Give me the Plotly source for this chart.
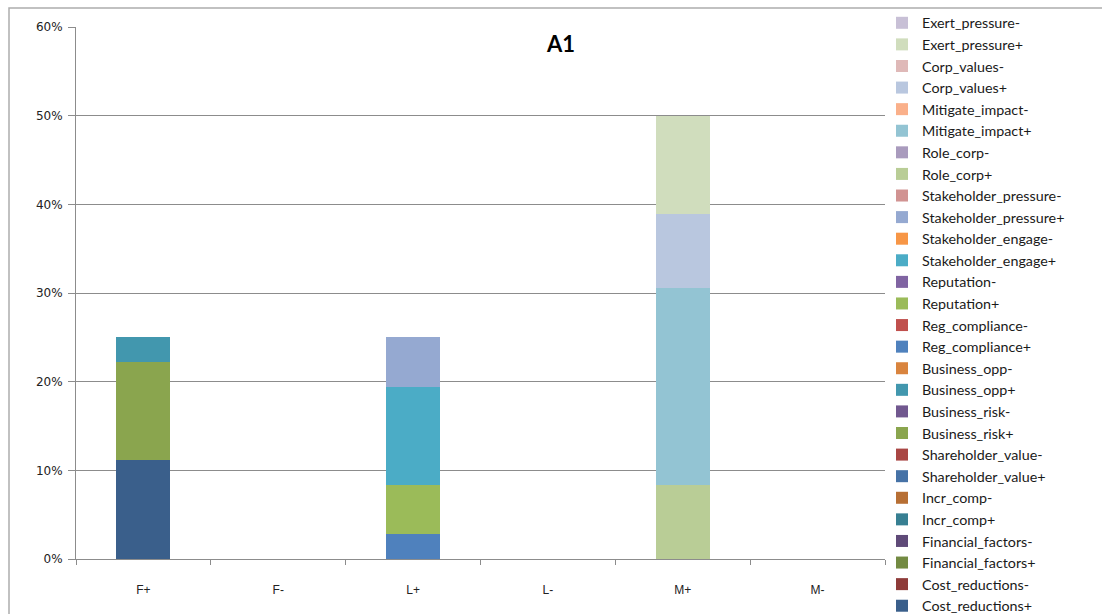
import plotly.graph_objects as go

# Categories on the x axis
categories = ["F+", "F-", "L+", "L-", "M+", "M-"]

# Share of mentions per category for each code (fractions of 1)
cost_reductions_pos = [0.1111, 0, 0, 0, 0, 0]
cost_reductions_neg = [0, 0, 0, 0, 0, 0]
financial_factors_pos = [0, 0, 0, 0, 0, 0]
financial_factors_neg = [0, 0, 0, 0, 0, 0]
incr_comp_pos = [0, 0, 0, 0, 0, 0]
incr_comp_neg = [0, 0, 0, 0, 0, 0]
shareholder_value_pos = [0, 0, 0, 0, 0, 0]
shareholder_value_neg = [0, 0, 0, 0, 0, 0]
business_risk_pos = [0.1111, 0, 0, 0, 0, 0]
business_risk_neg = [0, 0, 0, 0, 0, 0]
business_opp_pos = [0.0278, 0, 0, 0, 0, 0]
business_opp_neg = [0, 0, 0, 0, 0, 0]
reg_compliance_pos = [0, 0, 0.0278, 0, 0, 0]
reg_compliance_neg = [0, 0, 0, 0, 0, 0]
reputation_pos = [0, 0, 0.0556, 0, 0, 0]
reputation_neg = [0, 0, 0, 0, 0, 0]
stakeholder_engage_pos = [0, 0, 0.1111, 0, 0, 0]
stakeholder_engage_neg = [0, 0, 0, 0, 0, 0]
stakeholder_pressure_pos = [0, 0, 0.0556, 0, 0, 0]
stakeholder_pressure_neg = [0, 0, 0, 0, 0, 0]
role_corp_pos = [0, 0, 0, 0, 0.0833, 0]
role_corp_neg = [0, 0, 0, 0, 0, 0]
mitigate_impact_pos = [0, 0, 0, 0, 0.2222, 0]
mitigate_impact_neg = [0, 0, 0, 0, 0, 0]
corp_values_pos = [0, 0, 0, 0, 0.0833, 0]
corp_values_neg = [0, 0, 0, 0, 0, 0]
exert_pressure_pos = [0, 0, 0, 0, 0.1111, 0]
exert_pressure_neg = [0, 0, 0, 0, 0, 0]

# Series in stacking order (bottom to top): name, values, fill colour
series = [
    ("Cost_reductions+", cost_reductions_pos, "#3A5F8B"),
    ("Cost_reductions-", cost_reductions_neg, "#8E3B39"),
    ("Financial_factors+", financial_factors_pos, "#738A42"),
    ("Financial_factors-", financial_factors_neg, "#5F4A78"),
    ("Incr_comp+", incr_comp_pos, "#377F92"),
    ("Incr_comp-", incr_comp_neg, "#B76F34"),
    ("Shareholder_value+", shareholder_value_pos, "#4672A6"),
    ("Shareholder_value-", shareholder_value_neg, "#A94644"),
    ("Business_risk+", business_risk_pos, "#8AA54E"),
    ("Business_risk-", business_risk_neg, "#71588F"),
    ("Business_opp+", business_opp_pos, "#4297AE"),
    ("Business_opp-", business_opp_neg, "#D9843E"),
    ("Reg_compliance+", reg_compliance_pos, "#4F81BD"),
    ("Reg_compliance-", reg_compliance_neg, "#C0504D"),
    ("Reputation+", reputation_pos, "#9BBB59"),
    ("Reputation-", reputation_neg, "#8064A2"),
    ("Stakeholder_engage+", stakeholder_engage_pos, "#4BACC6"),
    ("Stakeholder_engage-", stakeholder_engage_neg, "#F79646"),
    ("Stakeholder_pressure+", stakeholder_pressure_pos, "#95A9D1"),
    ("Stakeholder_pressure-", stakeholder_pressure_neg, "#D19392"),
    ("Role_corp+", role_corp_pos, "#B9CD96"),
    ("Role_corp-", role_corp_neg, "#A99BBD"),
    ("Mitigate_impact+", mitigate_impact_pos, "#93C4D3"),
    ("Mitigate_impact-", mitigate_impact_neg, "#FAB08A"),
    ("Corp_values+", corp_values_pos, "#B9C7DF"),
    ("Corp_values-", corp_values_neg, "#DFB9B8"),
    ("Exert_pressure+", exert_pressure_pos, "#D0DDBD"),
    ("Exert_pressure-", exert_pressure_neg, "#C8C0D6"),
]

fig = go.Figure()
for name, values, color in series:
    fig.add_trace(go.Bar(
        x=categories, y=values, name=name,
        marker=dict(color=color, line=dict(width=0)),
    ))

W, H = 1102, 614
L, R, T, B = 76, 217, 27, 55
pw, ph = W - L - R, H - T - B

def px_x(px):
    return (px - L) / pw

def px_y(py):
    return 1 - (py - T) / ph

grid = "#8C8C8C"

fig.update_layout(
    width=W, height=H,
    margin=dict(l=L, r=R, t=T, b=B, autoexpand=False),
    paper_bgcolor="white", plot_bgcolor="white",
    barmode="stack", bargap=0.6,
    showlegend=True,
    legend=dict(
        x=px_x(882), y=px_y(7), xanchor="left", yanchor="top",
        traceorder="reversed",
        font=dict(family="Lato", size=14.3, color="#1a1a1a"),
        bgcolor="rgba(0,0,0,0)", borderwidth=0,
        itemwidth=30,
        maxheight=800,
    ),
    xaxis=dict(
        type="category",
        showgrid=False,
        showline=True, linecolor=grid, linewidth=1,
        ticks="outside", tickson="boundaries", ticklen=5, tickcolor=grid,
        tickfont=dict(family="Liberation Sans", size=12, color="#222222"),
        ticklabelstandoff=20,
    ),
    yaxis=dict(
        range=[0, 0.6], dtick=0.1, tickformat=".0%",
        showgrid=True, gridcolor=grid, gridwidth=1,
        showline=True, linecolor=grid, linewidth=1,
        ticks="outside", ticklen=7, tickcolor=grid,
        tickfont=dict(family="DejaVu Sans", size=12, color="#222222"),
        ticklabelstandoff=3,
        zeroline=False,
    ),
    annotations=[
        dict(
            text="<b>A1</b>", x=px_x(560), y=px_y(43),
            xref="paper", yref="paper", xanchor="center", yanchor="middle",
            showarrow=False, font=dict(family="Lato", size=22, color="#000000"),
        )
    ],
    shapes=[
        dict(
            type="rect", xref="paper", yref="paper",
            x0=px_x(9), x1=px_x(1200), y0=px_y(700), y1=px_y(8),
            line=dict(color="#ADADAD", width=1.5), fillcolor="rgba(0,0,0,0)",
            layer="below",
        )
    ],
)

fig.write_html("out.html")
